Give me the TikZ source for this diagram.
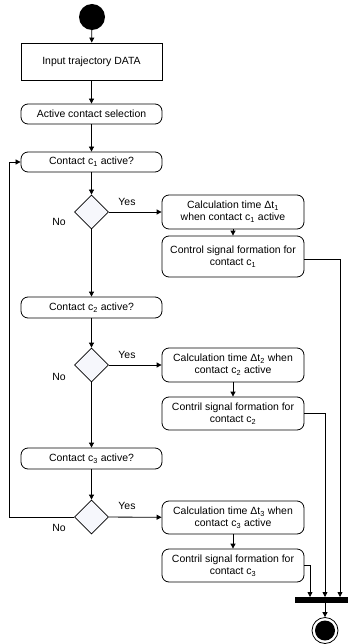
\documentclass[tikz,border=0pt]{standalone}
\usepackage{fontspec}
\setmainfont{Liberation Sans}
\usetikzlibrary{arrows.meta,shapes.geometric}
\definecolor{dfill}{RGB}{246,247,252}
\begin{document}
\begin{tikzpicture}[x=1bp,y=-1bp,
  every node/.style={font=\fontsize{10.5}{12}\selectfont},
  line/.style={draw, line width=0.8bp},
  arr/.style={line, -{Triangle[length=5bp,width=5bp]}},
  act/.style={draw, line width=0.8bp, rounded corners=7bp, minimum width=141bp, inner sep=1bp, align=center},
  rbox/.style={draw, line width=0.8bp, minimum width=141bp, inner sep=1bp, align=center},
  dec/.style={draw, line width=0.8bp, diamond, fill=dfill, minimum width=34bp, minimum height=34bp, inner sep=0},
  lab/.style={inner sep=0}]
\useasboundingbox (0,0) rectangle (349,644);

\node[circle, fill=black, minimum size=26bp, inner sep=0] (start) at (92,17) {};
\node[rbox, minimum height=37bp] (input) at (91.5,61.5) {Input trajectory DATA};
\node[act, minimum height=20bp] (sel) at (91.5,114) {Active contact selection};
\node[act, minimum height=20bp] (q1) at (91.5,162) {Contact c\textsubscript{1} active?};
\node[dec] (d1) at (91.5,212) {};
\node[act, minimum width=142bp, minimum height=34bp] (calc1) at (233,212) {Calculation time Δt\textsubscript{1}\\when contact c\textsubscript{1} active};
\node[act, minimum width=142bp, minimum height=41bp] (ctl1) at (233,256.5) {Control signal formation for\\contact c\textsubscript{1}};

\node[act, minimum height=21bp] (q2) at (91.5,307.5) {Contact c\textsubscript{2} active?};
\node[dec] (d2) at (91.5,365) {};
\node[act, minimum width=142bp, minimum height=34bp] (calc2) at (233,365) {Calculation time Δt\textsubscript{2} when\\contact c\textsubscript{2} active};
\node[act, minimum width=142bp, minimum height=33bp] (ctl2) at (233,413.5) {Contril signal formation for\\contact c\textsubscript{2}};

\node[act, minimum height=21bp] (q3) at (91.5,458.5) {Contact c\textsubscript{3} active?};
\node[dec] (d3) at (91.5,517) {};
\node[act, minimum width=142bp, minimum height=33bp] (calc3) at (233,517.5) {Calculation time Δt\textsubscript{3} when\\contact c\textsubscript{3} active};
\node[act, minimum width=142bp, minimum height=33bp] (ctl3) at (233,565.5) {Contril signal formation for\\contact c\textsubscript{3}};

\node[fill=black, minimum width=53bp, minimum height=6bp, inner sep=0] (bar) at (321.5,600) {};
\node[circle, draw, line width=0.8bp, minimum size=26bp, inner sep=0] (end) at (325,630.5) {};
\node[circle, fill=black, minimum size=20bp, inner sep=0] (endin) at (325,630.5) {};

\node[lab] (y1) at (127,202) {Yes};
\node[lab] (n1) at (59,222) {No};
\node[lab] (y2) at (127,355) {Yes};
\node[lab] (n2) at (59,377) {No};
\node[lab] (y3) at (127,506) {Yes};
\node[lab] (n3) at (59,528) {No};

\coordinate (j1) at (340,597);
\coordinate (j2) at (325,597);
\coordinate (j3) at (310,597);
\coordinate (lp) at (9,517);

\draw[arr] (start) -- (input);
\draw[arr] (input) -- (sel);
\draw[arr] (sel) -- (q1);
\draw[arr] (q1) -- (d1);
\draw[arr] (d1) -- (calc1);
\draw[arr] (calc1) -- (ctl1);
\draw[arr] (d1) -- (q2);
\draw[arr] (q2) -- (d2);
\draw[arr] (d2) -- (calc2);
\draw[arr] (calc2) -- (ctl2);
\draw[arr] (d2) -- (q3);
\draw[arr] (q3) -- (d3);
\draw[arr] (d3) -- (calc3);
\draw[arr] (calc3) -- (ctl3);
\draw[arr] (d3.west) -- (lp) |- (q1.west);
\draw[arr] (ctl1.east |- 0,259) -| (j1);
\draw[arr] (ctl2.east) -| (j2);
\draw[arr] (ctl3.east) -| (j3);
\draw[arr] (bar.south -| end) -- (end);
\end{tikzpicture}
\end{document}
